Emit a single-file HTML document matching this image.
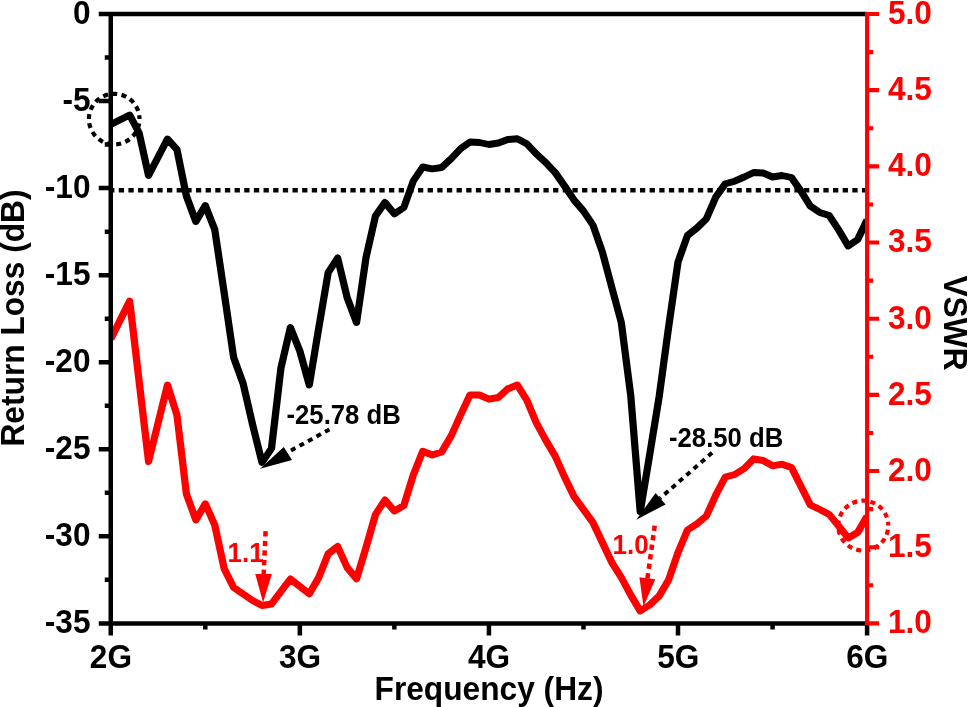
<!DOCTYPE html>
<html lang="en"><head><meta charset="utf-8"><title>Return Loss and VSWR vs Frequency</title>
<style>html,body{margin:0;padding:0;background:#fff}body{width:968px;height:707px;overflow:hidden}svg{display:block}text{font-family:"Liberation Sans",Arial,Helvetica,sans-serif;font-weight:bold}</style></head><body>
<svg width="968" height="707" viewBox="0 0 968 707">
<rect width="968" height="707" fill="#fff"/>
<defs><clipPath id="pc"><rect x="110.75" y="0" width="756.35" height="707"/></clipPath></defs>
<line x1="109.1" y1="190.3" x2="866" y2="190.3" stroke="#000" stroke-width="4.5" stroke-dasharray="5.3 4.352"/>
<g clip-path="url(#pc)"><g transform="scale(1.05 1)">
<polyline fill="none" stroke="#000" stroke-width="6.9" stroke-linejoin="round" stroke-linecap="butt" points="105.48,124.5 123.48,115.0 132.49,133.0 141.49,175.5 159.50,139.0 168.51,149.5 177.51,196.0 186.51,221.5 195.52,205.5 204.52,229.5 213.53,293.0 222.53,357.5 231.53,383.5 240.54,424.5 249.54,462.5 258.55,448.5 267.55,368.0 276.56,327.5 285.56,351.0 294.56,385.0 303.57,328.0 312.57,272.5 321.58,258.0 330.58,297.5 339.58,322.5 348.59,257.5 357.59,216.0 366.60,202.5 375.60,213.8 384.61,207.5 393.61,181.0 402.61,167.0 411.62,168.8 420.62,167.5 429.63,158.8 438.63,148.8 447.63,142.0 456.64,142.5 465.64,144.5 474.65,143.0 483.65,139.5 492.66,138.8 501.66,143.8 510.66,153.8 519.67,162.5 528.67,172.5 537.68,186.0 546.68,200.0 555.68,211.0 564.69,225.0 573.69,252.0 582.70,287.5 591.70,322.5 600.71,395.6 609.71,511.5 618.71,455.0 627.72,397.0 636.72,327.5 645.73,262.0 654.73,235.5 663.73,228.0 672.74,218.8 681.74,197.0 690.75,183.8 699.75,181.2 708.76,177.0 717.76,172.5 726.76,173.0 735.77,177.0 744.77,175.5 753.78,177.5 762.78,191.0 771.78,206.2 780.79,212.5 789.79,215.6 798.80,230.0 807.80,246.0 816.81,239.5 825.81,220.0"/>
<polyline fill="none" stroke="#f00" stroke-width="6.9" stroke-linejoin="round" stroke-linecap="butt" points="105.48,339.0 123.48,301.0 141.49,461.5 159.50,385.0 168.51,415.0 177.51,493.8 186.51,520.0 195.52,503.8 204.52,525.0 213.53,568.8 222.53,587.5 231.53,594.0 240.54,600.5 249.54,605.5 258.55,604.0 276.56,579.0 294.56,593.8 303.57,577.5 312.57,553.8 321.58,546.5 330.58,567.5 339.58,578.8 348.59,547.5 357.59,514.5 366.60,500.0 375.60,511.0 384.61,505.5 393.61,475.0 402.61,451.2 411.62,455.0 420.62,452.0 429.63,436.0 438.63,415.0 447.63,395.0 456.64,395.0 465.64,399.2 474.65,397.5 483.65,388.8 492.66,385.0 501.66,400.0 510.66,422.5 519.67,440.0 528.67,456.0 537.68,477.0 546.68,496.5 555.68,509.5 564.69,522.5 573.69,542.5 582.70,562.5 591.70,577.5 600.71,595.0 609.71,611.0 618.71,605.0 627.72,596.0 636.72,580.0 645.73,552.5 654.73,530.0 663.73,523.8 672.74,516.0 681.74,495.0 690.75,477.0 699.75,474.5 708.76,468.5 717.76,458.8 726.76,460.5 735.77,465.8 744.77,464.2 753.78,467.5 762.78,486.2 771.78,505.0 780.79,509.5 789.79,514.5 798.80,526.2 807.80,538.0 816.81,532.5 825.81,516.2"/>
</g></g>
<path d="M98.75 14.00 H867.10 M98.75 623.40 H867.10 M110.75 11.75 V635.40 M104.75 57.53 H110.75 M98.75 101.06 H110.75 M104.75 144.59 H110.75 M98.75 188.11 H110.75 M104.75 231.64 H110.75 M98.75 275.17 H110.75 M104.75 318.70 H110.75 M98.75 362.23 H110.75 M104.75 405.76 H110.75 M98.75 449.29 H110.75 M104.75 492.81 H110.75 M98.75 536.34 H110.75 M104.75 579.87 H110.75 M205.29 623.40 V629.40 M299.84 623.40 V635.40 M394.38 623.40 V629.40 M488.93 623.40 V635.40 M583.47 623.40 V629.40 M678.01 623.40 V635.40 M772.56 623.40 V629.40 M867.10 623.40 V635.40" fill="none" stroke="#000" stroke-width="4.5"/>
<path d="M867.10 11.95 V625.45 M867.10 623.40 H879.10 M867.10 585.31 H873.10 M867.10 547.23 H879.10 M867.10 509.14 H873.10 M867.10 471.05 H879.10 M867.10 432.96 H873.10 M867.10 394.88 H879.10 M867.10 356.79 H873.10 M867.10 318.70 H879.10 M867.10 280.61 H873.10 M867.10 242.52 H879.10 M867.10 204.44 H873.10 M867.10 166.35 H879.10 M867.10 128.26 H873.10 M867.10 90.17 H879.10 M867.10 52.09 H873.10 M867.10 14.00 H879.10" fill="none" stroke="#f00" stroke-width="4.1"/>
<text font-size="31.6" text-anchor="end" fill="#000" transform="translate(90.50 23.80) scale(1 1.041)">0</text>
<text font-size="31.6" text-anchor="end" fill="#000" transform="translate(90.50 110.86) scale(1 1.041)">-5</text>
<text font-size="31.6" text-anchor="end" fill="#000" transform="translate(90.50 197.91) scale(1 1.041)">-10</text>
<text font-size="31.6" text-anchor="end" fill="#000" transform="translate(90.50 284.97) scale(1 1.041)">-15</text>
<text font-size="31.6" text-anchor="end" fill="#000" transform="translate(90.50 372.03) scale(1 1.041)">-20</text>
<text font-size="31.6" text-anchor="end" fill="#000" transform="translate(90.50 459.09) scale(1 1.041)">-25</text>
<text font-size="31.6" text-anchor="end" fill="#000" transform="translate(90.50 546.14) scale(1 1.041)">-30</text>
<text font-size="31.6" text-anchor="end" fill="#000" transform="translate(90.50 633.20) scale(1 1.041)">-35</text>
<text font-size="31.6" text-anchor="middle" fill="#000" transform="translate(110.95 668.40) scale(1 1.041)">2G</text>
<text font-size="31.6" text-anchor="middle" fill="#000" transform="translate(300.04 668.40) scale(1 1.041)">3G</text>
<text font-size="31.6" text-anchor="middle" fill="#000" transform="translate(489.12 668.40) scale(1 1.041)">4G</text>
<text font-size="31.6" text-anchor="middle" fill="#000" transform="translate(678.21 668.40) scale(1 1.041)">5G</text>
<text font-size="31.6" text-anchor="middle" fill="#000" transform="translate(867.30 668.40) scale(1 1.041)">6G</text>
<text font-size="31.6" text-anchor="start" fill="#f00" transform="translate(887.90 633.20) scale(1 1.041)">1.0</text>
<text font-size="31.6" text-anchor="start" fill="#f00" transform="translate(887.90 557.02) scale(1 1.041)">1.5</text>
<text font-size="31.6" text-anchor="start" fill="#f00" transform="translate(887.90 480.85) scale(1 1.041)">2.0</text>
<text font-size="31.6" text-anchor="start" fill="#f00" transform="translate(887.90 404.68) scale(1 1.041)">2.5</text>
<text font-size="31.6" text-anchor="start" fill="#f00" transform="translate(887.90 328.50) scale(1 1.041)">3.0</text>
<text font-size="31.6" text-anchor="start" fill="#f00" transform="translate(887.90 252.32) scale(1 1.041)">3.5</text>
<text font-size="31.6" text-anchor="start" fill="#f00" transform="translate(887.90 176.15) scale(1 1.041)">4.0</text>
<text font-size="31.6" text-anchor="start" fill="#f00" transform="translate(887.90 99.97) scale(1 1.041)">4.5</text>
<text font-size="31.6" text-anchor="start" fill="#f00" transform="translate(887.90 23.80) scale(1 1.041)">5.0</text>
<text font-size="31.7" text-anchor="middle" fill="#000" transform="translate(489.00 699.60) scale(1 1.041)">Frequency (Hz)</text>
<text font-size="31.7" text-anchor="middle" fill="#000" transform="translate(24.20 318.00) rotate(-90) scale(1 1.041)">Return Loss (dB)</text>
<text font-size="31.7" text-anchor="middle" fill="#000" transform="translate(944.30 323.00) rotate(90) scale(1 1.041)">VSWR</text>
<circle cx="114.2" cy="119.1" r="25.3" fill="none" stroke="#000" stroke-width="4.2" stroke-dasharray="5 4.351" stroke-dashoffset="5"/>
<circle cx="863.25" cy="525.6" r="25" fill="none" stroke="#f00" stroke-width="4.2" stroke-dasharray="5 4.24" stroke-dashoffset="5"/>
<text font-size="25.7" text-anchor="start" fill="#000" transform="translate(286.50 424.00) scale(1 1.041)">-25.78 dB</text>
<line x1="329.4" y1="429.4" x2="286" y2="453.2" stroke="#000" stroke-width="4" stroke-dasharray="5 4.7"/>
<polygon points="260,468.75 283.75,447 292,460" fill="#000"/>
<text font-size="25.7" text-anchor="start" fill="#000" transform="translate(669.00 447.00) scale(1 1.041)">-28.50 dB</text>
<line x1="712.1" y1="452.8" x2="660" y2="498.3" stroke="#000" stroke-width="4" stroke-dasharray="5 4.7"/>
<polygon points="636.25,519.75 655.6,493.1 665.6,504.4" fill="#000"/>
<text font-size="26" text-anchor="start" fill="#f00" transform="translate(227.50 561.90) scale(1 1.041)">1.1</text>
<line x1="265.6" y1="531.2" x2="263.6" y2="576" stroke="#f00" stroke-width="4.5" stroke-dasharray="5.3 4.3"/>
<polygon points="255.25,574 271.9,574 263.1,602.5" fill="#f00"/>
<text font-size="26" text-anchor="start" fill="#f00" transform="translate(612.50 553.60) scale(1 1.041)">1.0</text>
<line x1="654.75" y1="525.6" x2="647.2" y2="580" stroke="#f00" stroke-width="4.5" stroke-dasharray="5.3 4.3"/>
<polygon points="639.4,577.2 655.25,579.2 643.5,606.5" fill="#f00"/>
</svg></body></html>
